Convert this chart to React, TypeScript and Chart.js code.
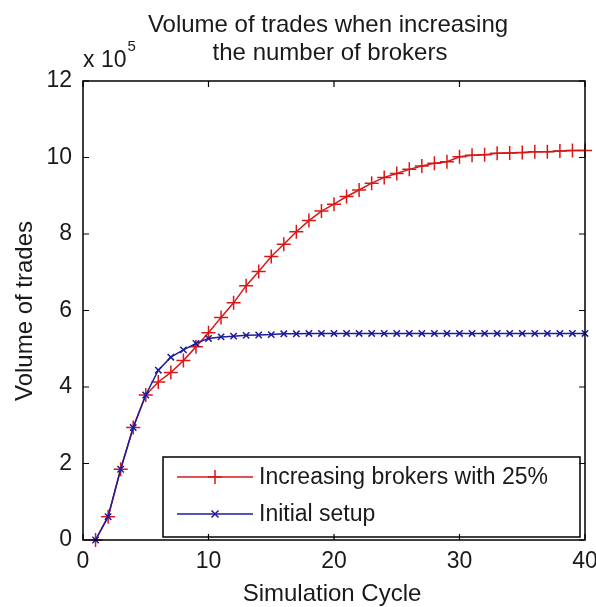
import React, { useEffect, useRef } from 'react';
import { Chart, registerables } from 'chart.js';

Chart.register(...registerables);

// Simulation cycles (x values)
const cycles = [1, 2, 3, 4, 5, 6, 7, 8, 9, 10, 11, 12, 13, 14, 15, 16, 17, 18, 19, 20,
  21, 22, 23, 24, 25, 26, 27, 28, 29, 30, 31, 32, 33, 34, 35, 36, 37, 38, 39, 40];

// Volume of trades, in units of 10^5
const increasingBrokers = [0, 0.61, 1.85, 2.94, 3.79, 4.13, 4.38, 4.69, 5.05, 5.42,
  5.82, 6.2, 6.65, 7.02, 7.41, 7.73, 8.06, 8.35, 8.6, 8.78,
  8.98, 9.15, 9.33, 9.48, 9.58, 9.69, 9.78, 9.85, 9.89, 10.02,
  10.06, 10.07, 10.11, 10.12, 10.13, 10.15, 10.15, 10.17, 10.18, 10.18];
const initialSetup = [0, 0.61, 1.85, 2.94, 3.79, 4.44, 4.78, 4.97, 5.14, 5.27,
  5.31, 5.33, 5.35, 5.36, 5.37, 5.39, 5.39, 5.4, 5.4, 5.4,
  5.4, 5.4, 5.4, 5.4, 5.4, 5.4, 5.4, 5.4, 5.4, 5.4,
  5.4, 5.4, 5.4, 5.4, 5.4, 5.4, 5.4, 5.4, 5.4, 5.4];

const xTicks = [0, 10, 20, 30, 40];
const yTicks = [0, 2, 4, 6, 8, 10, 12];
const titleLines = ['Volume of trades when increasing', 'the number of brokers'];
const xLabel = 'Simulation Cycle';
const yLabel = 'Volume of trades';
const legendLabels = ['Increasing brokers with 25%', 'Initial setup'];
const exponentBase = 'x 10';
const exponent = '5';

const RED = '#d81818';
const BLUE = '#1c1c9c';
const FONT = "'Liberation Sans', Arial, sans-serif";
const TEXT = '#1a1a1a';

function drawPlus(ctx: CanvasRenderingContext2D, x: number, y: number, r: number, color: string) {
  ctx.save();
  ctx.strokeStyle = color;
  ctx.lineWidth = 1.5;
  ctx.beginPath();
  ctx.moveTo(x - r, y); ctx.lineTo(x + r, y);
  ctx.moveTo(x, y - r); ctx.lineTo(x, y + r);
  ctx.stroke();
  ctx.restore();
}
function drawX(ctx: CanvasRenderingContext2D, x: number, y: number, r: number, color: string) {
  ctx.save();
  ctx.strokeStyle = color;
  ctx.lineWidth = 1.5;
  ctx.beginPath();
  ctx.moveTo(x - r, y - r); ctx.lineTo(x + r, y + r);
  ctx.moveTo(x - r, y + r); ctx.lineTo(x + r, y - r);
  ctx.stroke();
  ctx.restore();
}

const decorPlugin = {
  id: 'matlabDecor',
  afterDraw(chart: any) {
    const ctx: CanvasRenderingContext2D = chart.ctx;
    const { left, right, top, bottom } = chart.chartArea;
    const xs = chart.scales.x;
    const ys = chart.scales.y;
    ctx.save();

    // Legend box
    const lx = 163, ly = 457, lw = 417, lh = 80;
    ctx.fillStyle = '#fff';
    ctx.fillRect(lx, ly, lw, lh);
    ctx.strokeStyle = '#000';
    ctx.lineWidth = 1.5;
    ctx.strokeRect(lx, ly, lw, lh);
    const rows = [477, 514];
    const colors = [RED, BLUE];
    rows.forEach((ry, i) => {
      ctx.strokeStyle = colors[i];
      ctx.lineWidth = 1.5;
      ctx.beginPath();
      ctx.moveTo(177, ry); ctx.lineTo(253, ry);
      ctx.stroke();
      if (i === 0) drawPlus(ctx, 215, ry, 7, RED); else drawX(ctx, 215, ry, 3.5, BLUE);
      ctx.fillStyle = TEXT;
      ctx.font = `23px ${FONT}`;
      ctx.textAlign = 'left';
      ctx.textBaseline = 'middle';
      ctx.fillText(legendLabels[i], 259, ry + 1);
    });

    // Axes box
    ctx.strokeStyle = '#000';
    ctx.lineWidth = 1.5;
    ctx.strokeRect(left, top, right - left, bottom - top);
    // Inward ticks
    const tl = 6;
    ctx.lineWidth = 1.2;
    ctx.beginPath();
    xTicks.forEach((v) => {
      const px = xs.getPixelForValue(v);
      ctx.moveTo(px, bottom); ctx.lineTo(px, bottom - tl);
      ctx.moveTo(px, top); ctx.lineTo(px, top + tl);
    });
    yTicks.forEach((v) => {
      const py = ys.getPixelForValue(v);
      ctx.moveTo(left, py); ctx.lineTo(left + tl, py);
      ctx.moveTo(right, py); ctx.lineTo(right - tl, py);
    });
    ctx.stroke();

    // Title
    ctx.fillStyle = TEXT;
    ctx.font = `24px ${FONT}`;
    ctx.textAlign = 'center';
    ctx.textBaseline = 'alphabetic';
    ctx.fillText(titleLines[0], 328, 32);
    ctx.fillText(titleLines[1], 330, 60);

    // Exponent label
    ctx.textAlign = 'left';
    ctx.font = `23px ${FONT}`;
    ctx.fillText(exponentBase, 83, 67);
    const w = ctx.measureText(exponentBase).width;
    ctx.font = `15px ${FONT}`;
    ctx.fillText(exponent, 83 + w + 1, 51);

    // X axis label
    ctx.font = `24px ${FONT}`;
    ctx.textAlign = 'center';
    ctx.fillText(xLabel, 332, 601);

    // Y axis label
    ctx.save();
    ctx.translate(32, 311);
    ctx.rotate(-Math.PI / 2);
    ctx.textAlign = 'center';
    ctx.textBaseline = 'alphabetic';
    ctx.fillText(yLabel, 0, 0);
    ctx.restore();

    ctx.restore();
  },
};

export default function App() {
  const ref = useRef<HTMLCanvasElement | null>(null);
  useEffect(() => {
    if (!ref.current) return;
    const chart = new Chart(ref.current, {
      type: 'line',
      data: {
        datasets: [
          {
            label: legendLabels[1],
            data: cycles.map((c, i) => ({ x: c, y: initialSetup[i] })),
            borderColor: BLUE,
            backgroundColor: BLUE,
            borderWidth: 1.5,
            pointStyle: 'crossRot',
            pointRadius: 4.5,
            pointBorderWidth: 1.5,
            pointBorderColor: BLUE,
            tension: 0,
            clip: false as any,
            order: 0,
          },
          {
            label: legendLabels[0],
            data: cycles.map((c, i) => ({ x: c, y: increasingBrokers[i] })),
            borderColor: RED,
            backgroundColor: RED,
            borderWidth: 1.5,
            pointStyle: 'cross',
            pointRadius: 7,
            pointBorderWidth: 1.5,
            pointBorderColor: RED,
            tension: 0,
            clip: false as any,
            order: 1,
          },
        ],
      },
      options: {
        animation: false,
        responsive: false,
        devicePixelRatio: 1,
        layout: { padding: { left: 0, top: 81, right: 11, bottom: 0 }, autoPadding: false } as any,
        plugins: { legend: { display: false }, tooltip: { enabled: false }, title: { display: false } },
        scales: {
          x: {
            type: 'linear',
            min: 0,
            max: 40,
            afterFit: (s: any) => { s.height = 67; s.paddingLeft = 0; s.paddingRight = 0; },
            afterBuildTicks: (s: any) => { s.ticks = xTicks.map((v) => ({ value: v })); },
            grid: { display: false, drawTicks: false },
            border: { display: false },
            ticks: { padding: 8, color: TEXT, font: { family: FONT, size: 23 }, maxRotation: 0 },
          },
          y: {
            type: 'linear',
            min: 0,
            max: 12,
            afterFit: (s: any) => { s.width = 83; s.paddingTop = 0; s.paddingBottom = 0; },
            afterBuildTicks: (s: any) => { s.ticks = yTicks.map((v) => ({ value: v })); },
            grid: { display: false, drawTicks: false },
            border: { display: false },
            ticks: { padding: 11, color: TEXT, font: { family: FONT, size: 23 } },
          },
        },
      },
      plugins: [decorPlugin],
    });
    return () => chart.destroy();
  }, []);
  return (
    <div style={{ position: 'fixed', left: 0, top: 0, width: 596, height: 607, background: '#fff' }}>
      <canvas ref={ref} width={596} height={607} />
    </div>
  );
}
